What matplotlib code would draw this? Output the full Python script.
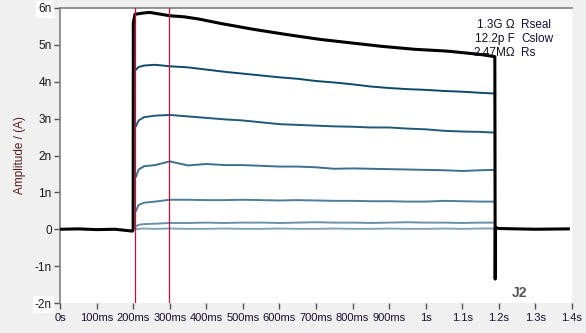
import matplotlib.pyplot as plt
import numpy as np

plt.rcParams['font.family'] = ['Liberation Sans', 'DejaVu Sans']

# black trace (largest step), time in s, current in nA
t_black = [0, 0.05, 0.1, 0.15, 0.198, 0.2, 0.2005, 0.205, 0.225, 0.245, 0.27,
           0.3, 0.34, 0.38, 0.44, 0.53, 0.62, 0.71, 0.79, 0.88, 0.97, 1.06,
           1.15, 1.189, 1.19, 1.1905, 1.2, 1.3, 1.39]
i_black = [0, 0.01, -0.01, 0, -0.05, 0, 5.6, 5.83, 5.86, 5.88, 5.84,
           5.79, 5.76, 5.70, 5.58, 5.42, 5.28, 5.15, 5.06, 4.96, 4.88, 4.83,
           4.74, 4.68, -1.35, 0.05, 0.02, 0.0, 0.01]

# other sweeps, common time grid
t_sweep = [0.208, 0.215, 0.23, 0.26, 0.30, 0.35, 0.40, 0.45, 0.50, 0.55, 0.60,
           0.65, 0.70, 0.75, 0.80, 0.85, 0.90, 0.95, 1.00, 1.05, 1.10, 1.15, 1.19]
sweep2 = [4.33, 4.40, 4.44, 4.46, 4.42, 4.39, 4.33, 4.27, 4.22, 4.17, 4.12,
          4.08, 4.02, 3.98, 3.93, 3.87, 3.83, 3.80, 3.78, 3.75, 3.73, 3.70, 3.68]
sweep3 = [2.80, 2.95, 3.04, 3.08, 3.10, 3.06, 3.02, 2.98, 2.95, 2.90, 2.85,
          2.83, 2.81, 2.79, 2.78, 2.76, 2.76, 2.73, 2.71, 2.67, 2.65, 2.64, 2.62]
sweep4 = [1.43, 1.62, 1.71, 1.74, 1.84, 1.73, 1.77, 1.74, 1.74, 1.72, 1.70,
          1.70, 1.68, 1.64, 1.65, 1.64, 1.63, 1.62, 1.61, 1.60, 1.58, 1.60, 1.61]
sweep5 = [0.50, 0.66, 0.72, 0.75, 0.80, 0.80, 0.79, 0.79, 0.80, 0.79, 0.78,
          0.79, 0.78, 0.77, 0.77, 0.76, 0.76, 0.75, 0.75, 0.77, 0.76, 0.75, 0.75]
sweep6 = [0.08, 0.12, 0.14, 0.15, 0.17, 0.17, 0.18, 0.17, 0.18, 0.18, 0.17,
          0.18, 0.19, 0.18, 0.18, 0.17, 0.18, 0.19, 0.18, 0.18, 0.17, 0.18, 0.18]
sweep7 = [0.00, 0.01, 0.02, 0.01, 0.02, 0.01, 0.01, 0.02, 0.01, 0.01, 0.02,
          0.01, 0.01, 0.02, 0.01, 0.01, 0.02, 0.01, 0.01, 0.02, 0.01, 0.02, 0.02]
sweeps = [sweep2, sweep3, sweep4, sweep5, sweep6, sweep7]
sweep_colors = ["#0b4a6b", "#1f5a7c", "#3a6f8e", "#4d7e99", "#6a90a9", "#80a3b9"]

cursors = [0.205, 0.299]

xticks = [0, 0.1, 0.2, 0.3, 0.4, 0.5, 0.6, 0.7, 0.8, 0.9, 1.0, 1.1, 1.2, 1.3, 1.4]
xlabels = ["0s", "100ms", "200ms", "300ms", "400ms", "500ms", "600ms", "700ms",
           "800ms", "900ms", "1s", "1.1s", "1.2s", "1.3s", "1.4s"]
yticks = [-2, -1, 0, 1, 2, 3, 4, 5, 6]
ylabels = ["-2n", "-1n", "0", "1n", "2n", "3n", "4n", "5n", "6n"]

params = [("1.3G Ω", "Rseal"), ("12.2p F", "Cslow"), ("2.47MΩ", "Rs")]

fig = plt.figure(figsize=(5.86, 3.33), dpi=100, facecolor="#f0f0f0")
ax = fig.add_axes([60 / 586, 1 - 303 / 333, 512 / 586, 295 / 333])
ax.set_facecolor("white")

for vals, c in zip(sweeps, sweep_colors):
    ax.plot(t_sweep, vals, color=c, lw=1.4, zorder=2)
ax.plot(t_black, i_black, color="black", lw=2.2, zorder=3)

for xc in cursors:
    ax.axvline(xc, color="#c0103c", lw=0.9, zorder=4)

ax.set_xlim(0, 1.3975)
ax.set_ylim(-2, 6)
ax.set_xticks(xticks)
ax.set_xticklabels(xlabels, fontsize=8, color="#1a1030")
ax.set_yticks(yticks)
ax.set_yticklabels(ylabels, fontsize=8.5, color="#1a1a1a")
ax.tick_params(direction="out", length=4, width=1, color="#555555", pad=2)
ax.tick_params(axis="x", pad=3)
for lab in (ax.get_yticklabels()[0], ax.get_yticklabels()[-1]):
    lab.set_bbox(dict(facecolor="white", edgecolor="none", pad=1.5))

for s in ["right", "bottom"]:
    ax.spines[s].set_visible(False)
for s in ["left", "top"]:
    ax.spines[s].set_color("#808080")
    ax.spines[s].set_linewidth(1.2)

ax.set_ylabel("Amplitude / (A)", fontsize=8.5, color="#5a1e1e", labelpad=6)

for k, (val, name) in enumerate(params):
    y = 1 - (25 + 14 * k - 8) / 295
    ax.text(455 / 512, y, val, transform=ax.transAxes, ha="right", va="center",
            fontsize=8.5, color="#101020", zorder=5)
    ax.text(461 / 512, y, name, transform=ax.transAxes, ha="left", va="center",
            fontsize=8.5, color="#101040", zorder=5)

ax.text(459 / 512, 1 - (293 - 8) / 295, "J2", transform=ax.transAxes,
        ha="center", va="center", fontsize=10, fontweight="bold", color="#555555")

fig.savefig("out.png", dpi=100, facecolor=fig.get_facecolor())
